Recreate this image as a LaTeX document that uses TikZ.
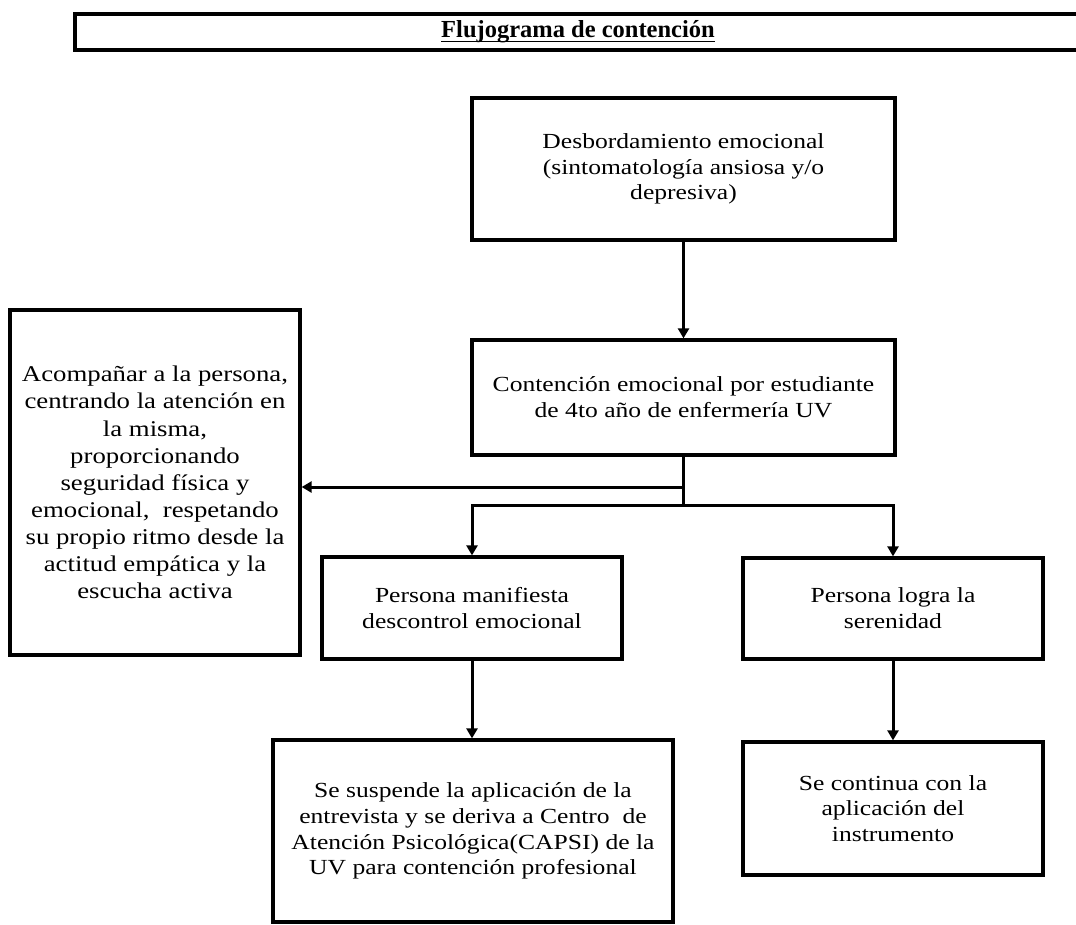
\documentclass[tikz,border=0pt]{standalone}
\usepackage{fontspec}
\setmainfont{Liberation Serif}[FakeStretch=1.19]
\newfontfamily\titlefont{Liberation Serif}
\newcommand\titleul[1]{\setbox0\hbox{#1}\rlap{\usebox0}\rule[-4pt]{\wd0}{1.3pt}}
\usetikzlibrary{arrows.meta}
\begin{document}
\begin{tikzpicture}[x=1pt,y=-1pt,
  box/.style={draw, line width=3.3pt, align=center, inner sep=0pt,
    font=\fontsize{21.5}{25.8}\selectfont},
  line/.style={line width=3pt},
  conn/.style={line width=3pt, -{Triangle[length=10pt,width=11pt]}}]
\useasboundingbox (0,0) rectangle (1076,924);
\fill[white] (0,0) rectangle (1076,924);
% title
\node[draw, line width=3.3pt, minimum width=1006pt, minimum height=36pt, inner sep=0pt,
  font=\titlefont\fontsize{24.5}{26}\selectfont\bfseries] (T) at (578,32)
  {\titleul{Flujograma de contención}};
% boxes
\node[box, minimum width=423pt, minimum height=142pt] (A) at (683.5,169)
  {Desbordamiento emocional\\(sintomatología ansiosa y/o\\depresiva)};
\node[box, minimum width=423pt, minimum height=115pt] (B) at (683.5,397.5)
  {Contención emocional por estudiante\\de 4to año de enfermería UV};
\node[box, minimum width=290pt, minimum height=345pt, font=\fontsize{22.5}{27.1}\selectfont] (C) at (155,482.5)
  {Acompañar a la persona,\\centrando la atención en\\la misma,\\proporcionando\\seguridad física y\\emocional,\ \ respetando\\su propio ritmo desde la\\actitud empática y la\\escucha activa};
\node[box, minimum width=300pt, minimum height=102pt] (D) at (472,608)
  {Persona manifiesta\\descontrol emocional};
\node[box, minimum width=300pt, minimum height=101pt] (E) at (893,608.5)
  {Persona logra la\\serenidad};
\node[box, minimum width=400pt, minimum height=182pt] (F) at (473,831)
  {Se suspende la aplicación de la\\entrevista y se deriva a Centro\ \ de\\Atención Psicológica(CAPSI) de la\\UV para contención profesional};
\node[box, minimum width=300pt, minimum height=133pt] (G) at (893,808.5)
  {Se continua con la\\aplicación del\\instrumento};
% connectors
\coordinate (j0) at (683.5,487);
\coordinate (j1) at (683.5,505);
\draw[conn] (A) -- (B);
\draw[line] (B.south) -- (j1);
\draw[conn] (j0) -- (C.east |- j0);
\draw[conn] (j1) -| (D.north);
\draw[conn] (j1) -| (E.north);
\draw[conn] (D.south) -- (D.south |- F.north);
\draw[conn] (E) -- (G);
\end{tikzpicture}
\end{document}
